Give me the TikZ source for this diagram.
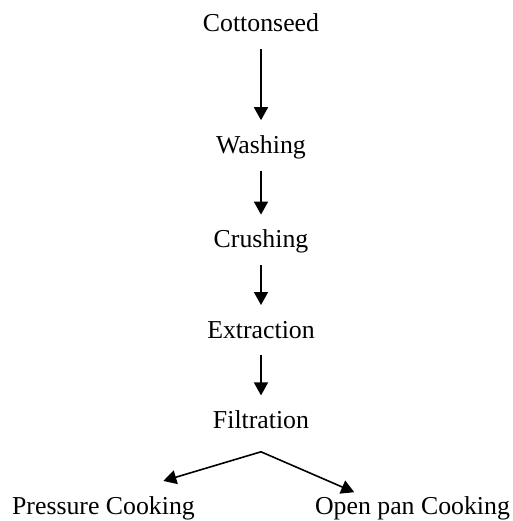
\documentclass[tikz,border=0pt]{standalone}
\usepackage{fontspec}
\setmainfont{Liberation Serif}
\usetikzlibrary{positioning,arrows.meta}

\begin{document}
\begin{tikzpicture}[
        x=1pt, y=1pt,
        node distance=66pt,
        >={Triangle[length=13pt,width=14pt]},
        every node/.style={font=\fontsize{25.8pt}{30pt}\selectfont},
        stage/.style={inner sep=0pt, text height=18pt, text depth=6pt},
        flow/.style={->, line width=1.6pt, shorten <=11pt, shorten >=15pt},
        branch/.style={->, line width=1.6pt}
    ]
        \useasboundingbox (0,0) rectangle (512,-521);

        \node[stage, anchor=base] (cotton) at (261,-32) {Cottonseed};
        \node[stage, below=97pt of cotton] (washing) {Washing};
        \node[stage, below=70pt of washing] (crushing) {Crushing};
        \node[stage, below=of crushing] (extraction) {Extraction};
        \node[stage, below=of extraction] (filtration) {Filtration};
        \coordinate[below=17pt of filtration] (split);
        \node[stage, below=61pt of filtration, xshift=-157.5pt] (pressure) {Pressure Cooking};
        \node[stage, below=61pt of filtration, xshift=151.5pt] (openpan) {Open pan Cooking};

        \draw[flow] (cotton) -- (washing);
        \draw[flow] (washing) -- (crushing);
        \draw[flow] (crushing) -- (extraction);
        \draw[flow] (extraction) -- (filtration);

        \draw[branch, shorten >=52pt] (split) -- ([xshift=10pt]pressure.north);
        \draw[branch, shorten >=9pt] (split) -- ([xshift=-50pt]openpan.north);
    \end{tikzpicture}
\end{document}
